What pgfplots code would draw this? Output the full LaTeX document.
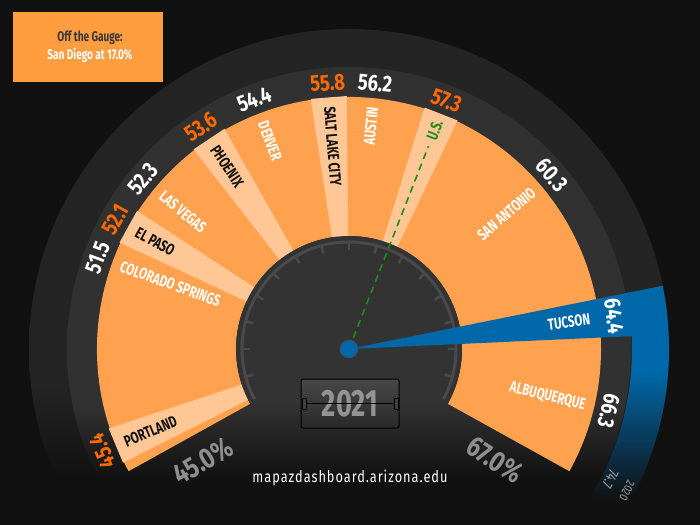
\documentclass[border=0pt]{standalone}
\usepackage{pgfplots}
\pgfplotsset{compat=1.18}
\usepackage{fontspec}
\setmainfont{Fira Sans}
\newfontfamily\osw{Fira Sans}[FakeStretch=0.72]
\newfontfamily\oswn{Fira Sans}[FakeStretch=0.8]
\newfontfamily\oswu{Fira Sans}[FakeStretch=0.8,LetterSpace=6]

\definecolor{bgc}{HTML}{111111}
\definecolor{ringc}{HTML}{242424}
\definecolor{bandc}{HTML}{313131}
\definecolor{dialc}{HTML}{333333}
\definecolor{tickc}{HTML}{4A4A4A}
\definecolor{orng}{HTML}{FFA24F}
\definecolor{boxorng}{HTML}{FF9D3F}
\definecolor{lite}{HTML}{FFC795}
\definecolor{valor}{HTML}{FF6A00}
\definecolor{tblue}{HTML}{0068A8}
\definecolor{bluedark}{HTML}{0B3350}
\definecolor{usgreen}{HTML}{1E8C1E}
\definecolor{pctgray}{HTML}{8F8F8F}
\definecolor{txtdark}{HTML}{111111}

\pgfdeclareverticalshading{ringfade}{100bp}{color(0bp)=(bgc); color(40bp)=(bgc); color(47bp)=(ringc); color(100bp)=(ringc)}
\pgfdeclareverticalshading{bandfade}{100bp}{color(0bp)=(bgc); color(38.5bp)=(bgc); color(45bp)=(bandc); color(100bp)=(bandc)}
\pgfdeclareverticalshading{bluefade}{100bp}{color(0bp)=(bgc); color(38bp)=(bgc); color(47bp)=(bluedark); color(60bp)=(tblue); color(100bp)=(tblue)}

% value label on the gray band: angle, text, colour
\newcommand\val[3]{\node[font=\oswn\bfseries\fontsize{23}{23}\selectfont, text=#3, rotate=#1-90, inner sep=0pt]
  at (axis cs:{267*cos(#1)},{267*sin(#1)}) {#2};}
% city label reading inward / outward: angle, text, colour
\newcommand\cin[3]{\node[font=\osw\bfseries\fontsize{16}{16}\selectfont, text=#3, anchor=west, rotate=#1-180, inner sep=0pt]
  at (axis cs:{243*cos(#1)},{243*sin(#1)}) {#2};}
\newcommand\cout[3]{\node[font=\osw\bfseries\fontsize{16}{16}\selectfont, text=#3, anchor=east, rotate=#1, inner sep=0pt]
  at (axis cs:{243*cos(#1)},{243*sin(#1)}) {#2};}

\begin{document}
\begin{tikzpicture}
\begin{axis}[
    x=1pt, y=1pt,
    xmin=-349, xmax=351,
    ymin=-175, ymax=349,
    hide axis,
    clip=false,
]
\coordinate (BL) at (axis cs:-349,-175);
\coordinate (TR) at (axis cs:351,349);
\fill[bgc] (axis cs:-356,-182) rectangle (axis cs:358,356);

% rings
\shade[shading=ringfade] (axis cs:0,0) circle[radius=320pt];
\shade[shading=bluefade] (axis cs:{320*cos(11.4)},{320*sin(11.4)}) arc[start angle=11.4,end angle=-45,radius=320pt]
  -- (axis cs:{283*cos(-45)},{283*sin(-45)}) arc[start angle=-45,end angle=11.4,radius=283pt] -- cycle;
\shade[shading=bandfade] (axis cs:0,0) circle[radius=282pt];

% orange gauge, 45.0% .. 67.0%
\fill[orng] (axis cs:{252*cos(209)},{252*sin(209)}) arc[start angle=209,end angle=-29,radius=252pt]
  -- (axis cs:{113*cos(-29)},{113*sin(-29)}) arc[start angle=-29,end angle=209,radius=113pt] -- cycle;

% light wedges: Portland, El Paso, Phoenix, Salt Lake City, U.S.
\addplot[fill=lite, draw=none, data cs=polar] coordinates {(0,0) (198.3,253) (206.7,253)};
\addplot[fill=lite, draw=none, data cs=polar] coordinates {(0,0) (146.9,253) (155.1,253)};
\addplot[fill=lite, draw=none, data cs=polar] coordinates {(0,0) (119.5,253) (127.9,253)};
\addplot[fill=lite, draw=none, data cs=polar] coordinates {(0,0) (90.5,253) (98.7,253)};
\addplot[fill=lite, draw=none, data cs=polar] coordinates {(0,0) (64.6,253) (72.6,253)};

% dial
\begin{scope}
\clip (axis cs:-120,-55) rectangle (axis cs:120,120);
\fill[dialc] (axis cs:0,0) circle[radius=113pt];
\end{scope}
\draw[tickc, line width=3pt] (axis cs:{107*cos(208)},{107*sin(208)}) arc[start angle=208,end angle=-28,radius=107pt];
\pgfplotsinvokeforeach{-15,0,...,195}{
  \draw[tickc, line width=2.5pt] (axis cs:{99*cos(#1)},{99*sin(#1)}) -- (axis cs:{107*cos(#1)},{107*sin(#1)});
}

% Tucson wedge, U.S. needle, hub
\addplot[fill=tblue, draw=none, data cs=polar] coordinates {(0,0) (2.6,290) (11.4,290)};
\addplot[usgreen, line width=1.6pt, dash pattern=on 7pt off 5pt, data cs=polar] coordinates {(68.6,0) (68.6,218)};
\addplot[only marks, mark=*, mark size=9pt, mark options={fill=tblue, draw=black!70, line width=0.6pt}] coordinates {(0,0)};

% values
\val{202.5}{45.4}{valor}
\val{160}{51.5}{white}
\val{151}{52.1}{valor}
\val{140.5}{52.3}{white}
\val{123.7}{53.6}{valor}
\val{110.8}{54.4}{white}
\val{94.6}{55.8}{valor}
\val{84.4}{56.2}{white}
\val{68.6}{57.3}{valor}
\val{40.6}{60.3}{white}
\val{7}{64.4}{white}
\val{-13.4}{66.3}{white}

% cities
\cin{202.5}{PORTLAND}{txtdark}
\cin{160}{COLORADO SPRINGS}{white}
\cin{151}{EL PASO}{txtdark}
\cin{140.5}{LAS VEGAS}{white}
\cin{123.7}{PHOENIX}{txtdark}
\cin{110.8}{DENVER}{white}
\cin{94.6}{SALT LAKE CITY}{txtdark}
\cout{84.4}{AUSTIN}{white}
\node[font=\osw\bfseries\fontsize{16}{16}\selectfont, text=usgreen, anchor=east, rotate=68.6, inner sep=0pt]
  at (axis cs:{245*cos(68.6)},{245*sin(68.6)}) {U.S.};
\cout{40.6}{SAN ANTONIO}{white}
\cout{7}{TUCSON}{white}
\cout{-13.4}{ALBUQUERQUE}{white}

% 2020 marker
\node[font=\oswn\fontsize{15}{15}\selectfont, text=black!38, rotate=-116.7, inner sep=0pt]
  at (axis cs:{292*cos(-26.5)},{292*sin(-26.5)}) {74.7};
\node[font=\oswn\fontsize{12}{12}\selectfont, text=black!38, rotate=-116.7, inner sep=0pt]
  at (axis cs:{312*cos(-27)},{312*sin(-27)}) {2020};

% scale ends
\node[font=\oswn\bfseries\fontsize{29}{29}\selectfont, text=pctgray, rotate=31] at (axis cs:-146,-112) {45.0\%};
\node[font=\oswn\bfseries\fontsize{29}{29}\selectfont, text=pctgray, rotate=-33] at (axis cs:146,-111) {67.0\%};

% year counter
\shade[top color=black!72, bottom color=black!84, draw=black, line width=1pt, rounded corners=2pt]
  (axis cs:-48,-30) rectangle (axis cs:50,-79);
\node[font=\osw\bfseries\fontsize{38}{38}\selectfont, text=black!42] at (axis cs:1,-55) {2021};
\draw[black, line width=0.8pt] (axis cs:-45,-54) -- (axis cs:47,-54);
\draw[black, fill=black!75, line width=0.6pt] (axis cs:-47,-49) rectangle (axis cs:-43,-60);
\draw[black, fill=black!75, line width=0.6pt] (axis cs:45,-49) rectangle (axis cs:49,-60);

% source
\node[font=\oswu\fontsize{16}{16}\selectfont, text=white] at (axis cs:1,-129) {mapazdashboard.arizona.edu};

% off the gauge box
\fill[boxorng] (axis cs:-336,337) rectangle (axis cs:-186,267);
\node[font=\osw\bfseries\fontsize{14}{14}\selectfont, text=black!78] at (axis cs:-259,311) {Off the Gauge:};
\node[font=\osw\bfseries\fontsize{14}{14}\selectfont, text=white] at (axis cs:-259,294) {San Diego at 17.0\%};
\end{axis}
\pgfresetboundingbox
\useasboundingbox (BL) rectangle (TR);
\end{tikzpicture}
\end{document}
